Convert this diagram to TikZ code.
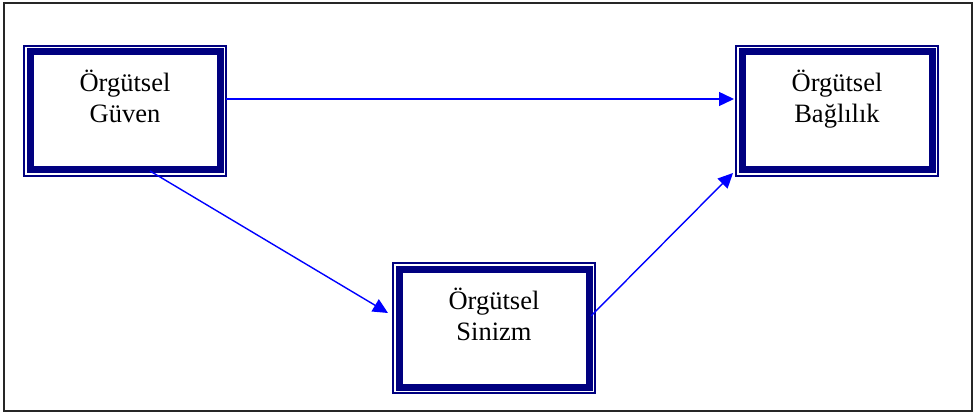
\documentclass[tikz,border=0pt]{standalone}
\usepackage{fontspec}
\setmainfont{Liberation Serif}
\usepackage{tikz}
\usetikzlibrary{positioning,arrows.meta,calc}
\definecolor{boxnavy}{RGB}{0,0,128}
\definecolor{arrowblue}{RGB}{0,0,255}

\begin{document}
\begin{tikzpicture}[x=1pt,y=-1pt,
    framebox/.style={draw=boxnavy,line width=7pt,outer sep=0pt,minimum width=190pt,minimum height=118pt,
      align=center,text height=54pt,text depth=30pt,font=\fontsize{26.5}{31}\selectfont},
    link/.style={-{Triangle[length=15pt,width=14pt]},draw=arrowblue,line width=1.4pt}]
    \useasboundingbox (0,0) rectangle (974,414);
    \draw[line width=1.8pt,black!85] (4,3) rectangle (972,411);
    \node[framebox] (guven) at (125,111) {Örgütsel\\Güven};
    \node[framebox,right=522pt of guven] (baglilik) {Örgütsel\\Bağlılık};
    \node[framebox] (sinizm) at (494,328) {Örgütsel\\Sinizm};
    % thin outer frame round each box
    \foreach \n in {guven,baglilik,sinizm}
      \draw[boxnavy,line width=1.5pt] ([shift={(-6pt,-6pt)}]\n.south west) rectangle ([shift={(6pt,6pt)}]\n.north east);
    \draw[link] ([shift={(6pt,12pt)}]guven.east) -- ([shift={(-8pt,12pt)}]baglilik.west);
    \draw[link] ([shift={(25pt,-1pt)}]guven.south) -- ([shift={(-11pt,15pt)}]sinizm.west);
    \draw[link] ([shift={(2pt,12pt)}]sinizm.east) -- ([shift={(-9pt,-3pt)}]baglilik.south west);
\end{tikzpicture}
\end{document}
